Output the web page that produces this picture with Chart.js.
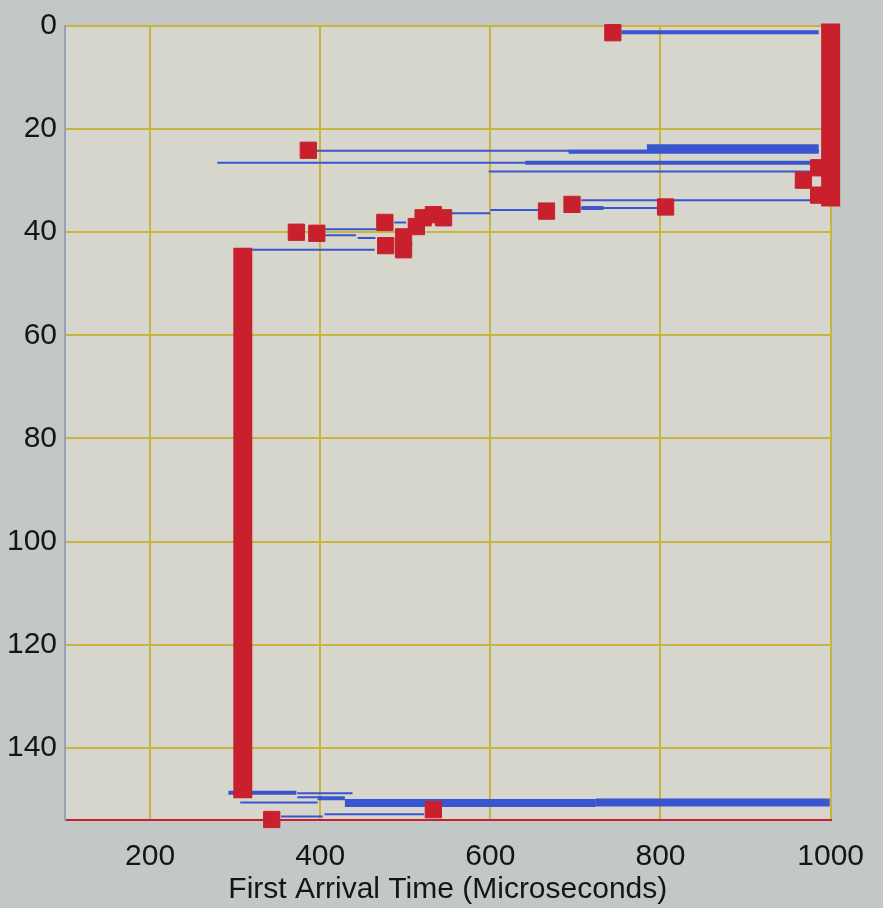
<!DOCTYPE html>
<html>
<head>
<meta charset="utf-8">
<script src="https://cdn.jsdelivr.net/npm/chart.js@4.4.1/dist/chart.umd.min.js"></script>
<style>
  html, body { margin: 0; padding: 0; background: #c3c7c6; }
  #chartBox { width: 883px; height: 908px; }
</style>
</head>
<body>
<div id="chartBox"><canvas id="arrivalChart" width="883" height="908"></canvas></div>
<script>
// axis ticks
const xTicks = [200, 400, 600, 800, 1000];
const yTicks = [0, 20, 40, 60, 80, 100, 120, 140];

// red markers (first arrival time, depth)
const markerTime  = [744, 386, 968, 986, 986, 666, 696, 806, 372, 396, 476, 477, 498, 498, 513, 521, 533, 545, 533, 343];
const markerDepth = [1.3, 24.1, 29.9, 27.5, 32.8, 35.9, 34.6, 35.1, 40.0, 40.2, 38.1, 42.6, 40.9, 43.4, 38.9, 37.2, 36.6, 37.2, 152.0, 153.9];

// red columns
const columnTime   = [309, 1000];
const columnTop    = [43, -0.5];
const columnBottom = [149.8, 35];

// thin blue paths
const thinFrom  = [396, 279, 598, 707, 707, 554, 600, 406, 406, 444, 487, 320, 373, 373, 306, 405, 354];
const thinTo    = [986, 986, 986, 985, 796, 600, 657, 485, 442, 465, 501, 464, 438, 402, 397, 522, 403];
const thinDepth = [24.2, 26.5, 28.2, 33.8, 35.3, 36.3, 35.7, 39.4, 40.6, 41.1, 38.1, 43.4, 148.8, 149.6, 150.6, 152.9, 153.3];

// medium blue paths
const midFrom  = [754, 692, 641, 707, 292, 397];
const midTo    = [986, 986, 986, 733, 372, 429];
const midDepth = [1.2, 24.4, 26.5, 35.3, 148.7, 149.8];

// heavy blue paths
const heavyFrom  = [784, 429, 724];
const heavyTo    = [986, 724, 999];
const heavyDepth = [23.7, 150.7, 150.6];

const colors = {
    page: "#c3c7c6",
    plot: "#d6d6cc",
    grid: "#c9b43e",
    red: "#c8202c",
    blue: "#3a55d0",
    leftEdge: "#98a0b4",
    text: "#151515",
};

const font = { family: "'Liberation Sans', Arial, sans-serif", size: 30 };

function pathSets(from, to, depth, width) {
    return from.map((x0, i) => ({
        type: "line",
        data: [{ x: x0, y: depth[i] }, { x: to[i], y: depth[i] }],
        borderColor: colors.blue,
        borderWidth: width,
        pointRadius: 0,
        showLine: true,
        order: 3,
    }));
}

const columnSets = columnTime.map((t, i) => ({
    type: "line",
    data: [{ x: t, y: columnTop[i] }, { x: t, y: columnBottom[i] }],
    borderColor: colors.red,
    borderWidth: 19,
    pointRadius: 0,
    showLine: true,
    clip: false,
    order: 2,
}));

const markerSet = {
    type: "scatter",
    data: markerTime.map((t, i) => ({ x: t, y: markerDepth[i] })),
    pointStyle: "rect",
    pointRadius: 11.5,
    backgroundColor: colors.red,
    borderColor: colors.red,
    borderWidth: 1,
    clip: false,
    order: 1,
};

const plotBackground = {
    id: "plotBackground",
    beforeDraw(chart) {
        const { ctx, chartArea } = chart;
        ctx.save();
        ctx.fillStyle = colors.plot;
        ctx.fillRect(chartArea.left, chartArea.top, chartArea.right - chartArea.left, chartArea.bottom - chartArea.top);
        ctx.restore();
    },
};

new Chart(document.getElementById("arrivalChart"), {
    type: "scatter",
    data: {
        datasets: [
            markerSet,
            ...columnSets,
            ...pathSets(heavyFrom, heavyTo, heavyDepth, 8),
            ...pathSets(midFrom, midTo, midDepth, 4),
            ...pathSets(thinFrom, thinTo, thinDepth, 2),
        ],
    },
    options: {
        responsive: false,
        animation: false,
        events: [],
        layout: { padding: { top: 22, right: 38, left: 0, bottom: 0 } },
        plugins: {
            legend: { display: false },
            tooltip: { enabled: false },
        },
        scales: {
            x: {
                type: "linear",
                min: 100,
                max: 1000,
                afterBuildTicks(axis) {
                    axis.ticks = xTicks.map((v) => ({ value: v }));
                },
                afterFit(axis) {
                    axis.height = 88;
                },
                grid: { color: colors.grid, lineWidth: 2, drawTicks: false },
                border: { color: colors.red, width: 2 },
                ticks: {
                    color: colors.text,
                    font,
                    padding: 19,
                    maxRotation: 0,
                    callback: (v) => String(v),
                },
                title: {
                    display: true,
                    text: "First Arrival Time (Microseconds)",
                    color: colors.text,
                    font,
                    padding: { top: 0, bottom: 0 },
                },
            },
            y: {
                type: "linear",
                reverse: true,
                min: 0,
                max: 154,
                afterBuildTicks(axis) {
                    axis.ticks = yTicks.map((v) => ({ value: v }));
                },
                afterFit(axis) {
                    axis.width = 65;
                },
                grid: { color: colors.grid, lineWidth: 2, drawTicks: false },
                border: { color: colors.leftEdge, width: 2 },
                ticks: {
                    color: colors.text,
                    font,
                    padding: 8,
                    callback: (v) => String(v),
                },
            },
        },
    },
    plugins: [plotBackground],
});
</script>
</body>
</html>
